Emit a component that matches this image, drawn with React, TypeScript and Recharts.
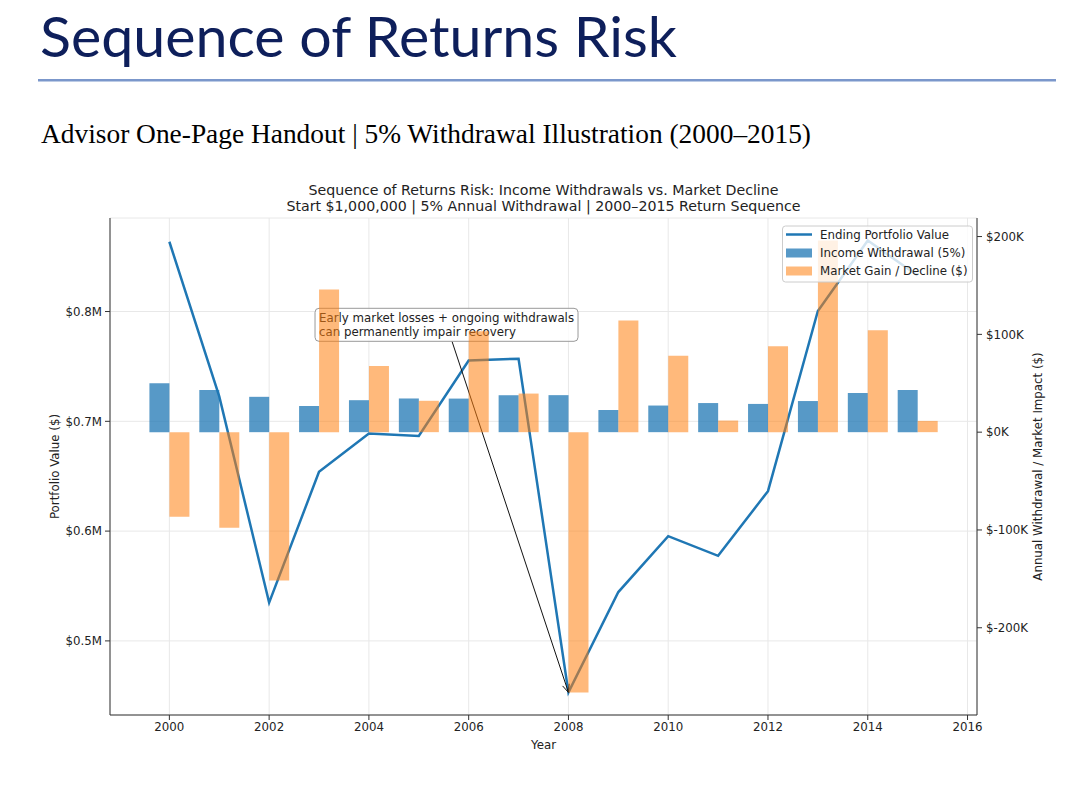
import React from 'react';
import { ComposedChart, Line, Bar, XAxis, YAxis, CartesianGrid, ReferenceLine } from 'recharts';

const years = [2000, 2001, 2002, 2003, 2004, 2005, 2006, 2007, 2008, 2009, 2010, 2011, 2012, 2013, 2014, 2015];

// ending portfolio value ($)
const endingValue = [
  863550, 722749, 534871, 653960, 688980, 686603, 755332, 757031,
  453083, 544493, 595375, 577484, 636388, 800449, 864605, 832874,
];

// 5% of start-of-year value
const withdrawal = [
  50000, 43178, 36137, 26744, 32698, 34449, 34330, 37767,
  37852, 22654, 27225, 29769, 28874, 31819, 40022, 43230,
];

const marketImpact = [
  -86450, -97624, -151741, 145833, 67718, 32072, 103059, 39466,
  -266097, 114064, 78107, 11878, 87778, 195880, 104178, 11499,
];

const yearTicks = [2000, 2002, 2004, 2006, 2008, 2010, 2012, 2014, 2016];
const valueTicks = [500000, 600000, 700000, 800000];
const impactTicks = [-200000, -100000, 0, 100000, 200000];

const calloutLines = ['Early market losses + ongoing withdrawals', 'can permanently impair recovery'];
const calloutAnchor = { x: 2003, y: 787900 };
const calloutTarget = { x: 2008, y: endingValue[8] };

const chartData = years.map((year, i) => ({
  year,
  value: endingValue[i],
  withdrawal: withdrawal[i],
  market: marketImpact[i],
}));

// matplotlib-like 5% axis margins
const pad = (lo: number, hi: number): [number, number] => {
  const m = (hi - lo) * 0.05;
  return [lo - m, hi + m];
};
const xDomain = pad(years[0] - 0.4, years[years.length - 1] + 0.4);
const leftDomain = pad(Math.min(...endingValue), Math.max(...endingValue));
const rightDomain = pad(
  Math.min(0, ...withdrawal, ...marketImpact),
  Math.max(0, ...withdrawal, ...marketImpact),
);

const BLUE = '#1f77b4';
const ORANGE = '#ff7f0e';
const FONT = "'DejaVu Sans', sans-serif";
const FS = 11.8;
const TICK = { fill: '#222', fontSize: FS, fontFamily: FONT };
const AXIS = { stroke: '#333', strokeWidth: 1 };

const CHART_TOP = 170;
const PLOT = { left: 110, right: 977, top: 218, bottom: 715 };

function Callout(props: any) {
  const { x1, y1, x2, y2 } = props;
  if (x1 == null || y1 == null) return null;
  const boxW = 263;
  const boxH = 33;
  const bx = x1 - 4;
  const by = y1 - boxH / 2;
  const cx = bx + boxW / 2;
  const t = boxH / 2 / (y2 - y1);
  const sx = cx + t * (x2 - cx);
  const sy = y1 + boxH / 2;
  const ang = Math.atan2(y2 - sy, x2 - sx);
  const hl = 8;
  const hw = 3.5;
  const bxh = x2 - hl * Math.cos(ang);
  const byh = y2 - hl * Math.sin(ang);
  const head = `${bxh + hw * Math.sin(ang)},${byh - hw * Math.cos(ang)} ${x2},${y2} ${bxh - hw * Math.sin(ang)},${byh + hw * Math.cos(ang)}`;
  return (
    <g>
      <line x1={sx} y1={sy} x2={x2} y2={y2} stroke="#111" strokeWidth={1} />
      <polyline points={head} fill="none" stroke="#111" strokeWidth={1} />
      <rect x={bx} y={by} width={boxW} height={boxH} rx={4} fill="#fff" fillOpacity={0.8} stroke="#999" />
      <text x={x1} y={y1 - 3} fontSize={FS} fontFamily={FONT} fill="#222">{calloutLines[0]}</text>
      <text x={x1} y={y1 + 11} fontSize={FS} fontFamily={FONT} fill="#222">{calloutLines[1]}</text>
    </g>
  );
}

function Overlay() {
  const midX = (PLOT.left + PLOT.right) / 2;
  const midY = (PLOT.top + PLOT.bottom) / 2;
  return (
    <svg width={1084} height={792} style={{ position: 'absolute', left: 0, top: 0, pointerEvents: 'none' }}>
      <text x={40} y={57} fontSize={57} fontFamily="Lato, 'Open Sans', sans-serif" fill="#0e1f5b"
        textLength={637} lengthAdjust="spacingAndGlyphs">Sequence of Returns Risk</text>
      <rect x={38} y={79} width={1018} height={2.5} fill="#7b97cb" />
      <text x={41} y={143} fontSize={27} fontFamily="'Liberation Serif', serif" fill="#000"
        textLength={770} lengthAdjust="spacingAndGlyphs">Advisor One-Page Handout | 5% Withdrawal Illustration (2000–2015)</text>

      <text x={midX} y={195} textAnchor="middle" fontSize={14.2} fontFamily={FONT} fill="#222">
        Sequence of Returns Risk: Income Withdrawals vs. Market Decline
      </text>
      <text x={midX} y={211} textAnchor="middle" fontSize={14.2} fontFamily={FONT} fill="#222">
        Start $1,000,000 | 5% Annual Withdrawal | 2000–2015 Return Sequence
      </text>

      <text x={55} y={midY} transform={`rotate(-90 55 ${midY})`} textAnchor="middle" dominantBaseline="central"
        fontSize={FS} fontFamily={FONT} fill="#222">Portfolio Value ($)</text>
      <text x={1038} y={midY} transform={`rotate(-90 1038 ${midY})`} textAnchor="middle" dominantBaseline="central"
        fontSize={FS} fontFamily={FONT} fill="#222">Annual Withdrawal / Market Impact ($)</text>
      <text x={midX} y={749} textAnchor="middle" fontSize={FS} fontFamily={FONT} fill="#222">Year</text>

      <g transform="translate(782,225.5)">
        <rect x={0.5} y={0.5} width={190} height={56} rx={3} fill="#fff" fillOpacity={0.8} stroke="#ccc" />
        <line x1={4} y1={9} x2={30} y2={9} stroke={BLUE} strokeWidth={2.5} />
        <rect x={4} y={23} width={26} height={9} fill={BLUE} fillOpacity={0.75} />
        <rect x={4} y={41} width={26} height={9} fill={ORANGE} fillOpacity={0.55} />
        <text x={38} y={13} fontSize={FS} fontFamily={FONT} fill="#222">Ending Portfolio Value</text>
        <text x={38} y={31} fontSize={FS} fontFamily={FONT} fill="#222">Income Withdrawal (5%)</text>
        <text x={38} y={49} fontSize={FS} fontFamily={FONT} fill="#222">Market Gain / Decline ($)</text>
      </g>
    </svg>
  );
}

export default function App() {
  return (
    <div style={{ position: 'absolute', left: 0, top: 0, width: 1084, height: 792, background: '#fff', overflow: 'hidden' }}>
      <div style={{ position: 'absolute', left: 0, top: CHART_TOP }}>
        <ComposedChart
          width={1084}
          height={622}
          data={chartData}
          barGap={0}
          margin={{ top: PLOT.top - CHART_TOP, right: 0, bottom: 47, left: 0 }}
        >
          <CartesianGrid stroke="#e8e8e8" strokeWidth={1} />
          <XAxis
            dataKey="year"
            type="number"
            domain={xDomain}
            ticks={yearTicks}
            allowDataOverflow
            height={30}
            tick={TICK}
            tickSize={5}
            tickMargin={3}
            tickLine={AXIS}
            axisLine={AXIS}
          />
          <XAxis xAxisId="top" orientation="top" height={0} tick={false} tickLine={false} axisLine={AXIS} />
          <YAxis
            type="number"
            domain={leftDomain}
            ticks={valueTicks}
            allowDataOverflow
            width={110}
            tick={TICK}
            tickSize={5}
            tickMargin={3}
            tickLine={AXIS}
            axisLine={AXIS}
            tickFormatter={(v: number) => `$${(v / 1e6).toFixed(1)}M`}
          />
          <YAxis
            yAxisId="right"
            orientation="right"
            type="number"
            domain={rightDomain}
            ticks={impactTicks}
            allowDataOverflow
            width={107}
            tick={TICK}
            tickSize={5}
            tickMargin={4}
            tickLine={AXIS}
            axisLine={AXIS}
            tickFormatter={(v: number) => `$${Math.round(v / 1000)}K`}
          />
          <Line
            dataKey="value"
            type="linear"
            stroke={BLUE}
            strokeWidth={2.5}
            dot={false}
            activeDot={false}
            isAnimationActive={false}
            zIndex={100}
          />
          <ReferenceLine
            segment={[calloutAnchor, calloutTarget]}
            shape={(p: any) => <Callout {...p} />}
            zIndex={150}
          />
          <Bar yAxisId="right" dataKey="withdrawal" fill={BLUE} fillOpacity={0.75} barSize={20} isAnimationActive={false} zIndex={300} />
          <Bar yAxisId="right" dataKey="market" fill={ORANGE} fillOpacity={0.55} barSize={20} isAnimationActive={false} zIndex={300} />
        </ComposedChart>
      </div>
      <Overlay />
    </div>
  );
}
